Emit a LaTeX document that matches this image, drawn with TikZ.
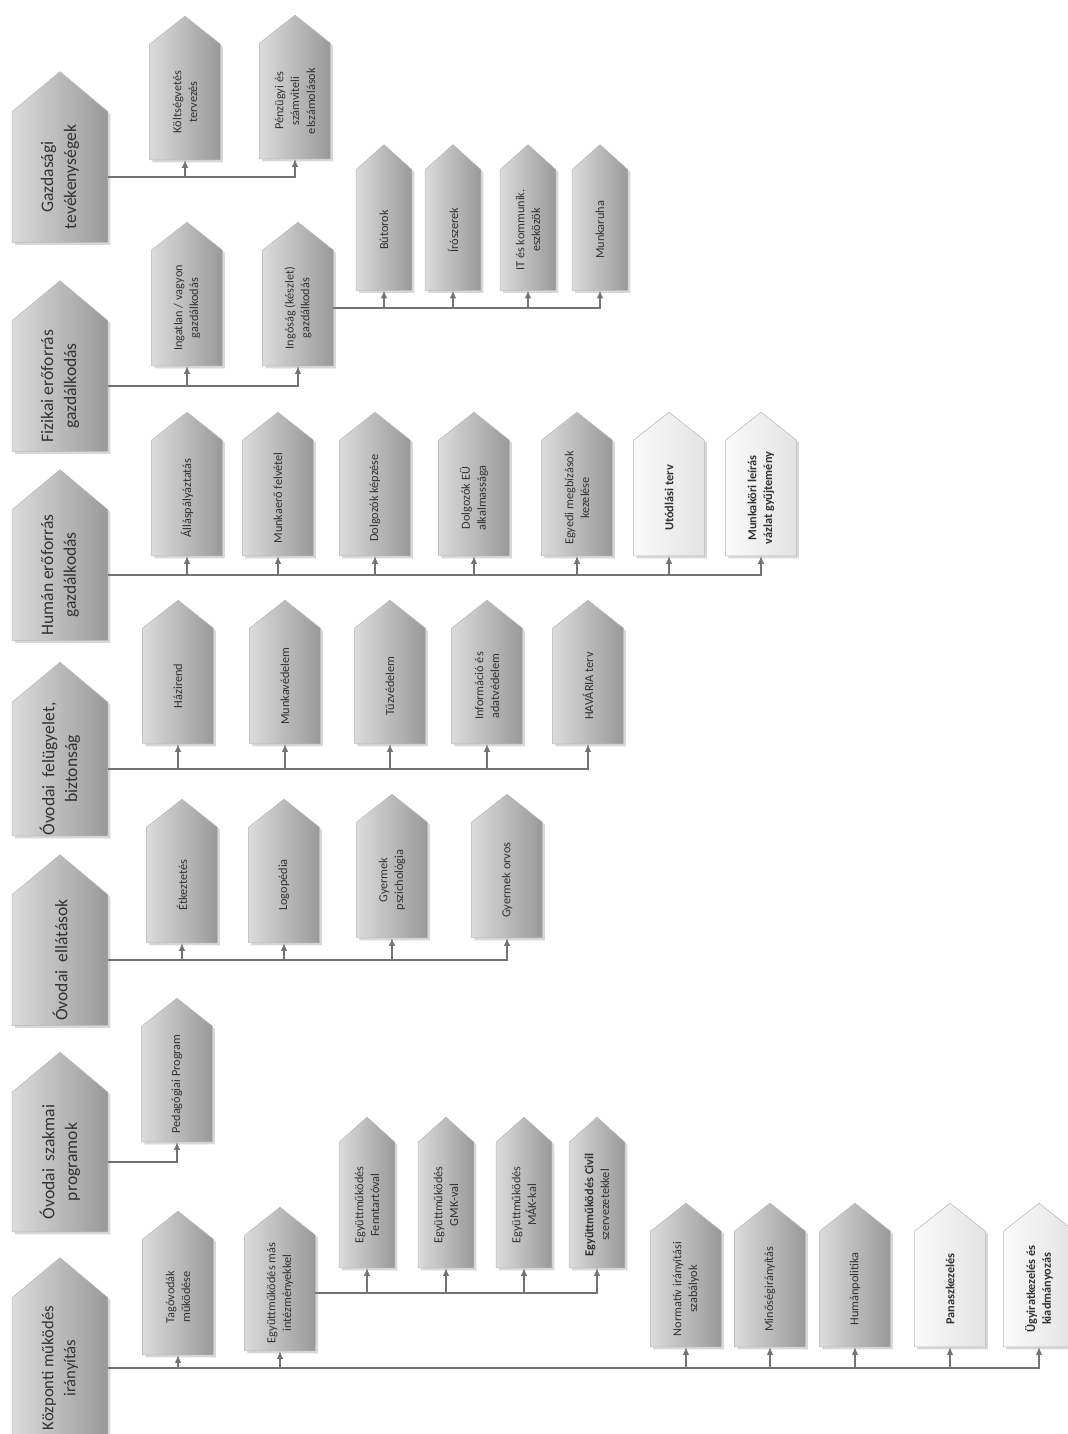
\documentclass[tikz,border=0pt]{standalone}
\usepackage{fontspec}
\setmainfont{Carlito}
\usetikzlibrary{arrows.meta,backgrounds,shadows}

% rotated boxes: local x runs up the page, so .south is the page-right side
% and .west is the page-bottom side
\tikzset{
  box/.style={rotate=90, inner sep=0pt, align=center, text=black!80},
  main/.style={box, minimum width=2.6cm, minimum height=1.9cm, font=\fontsize{10}{13}\selectfont},
  kid/.style={box, minimum width=2.3cm, minimum height=1.4cm, font=\fontsize{7}{9}\selectfont},
  leaf/.style={box, minimum width=2.4cm, minimum height=1.1cm, font=\fontsize{7}{9}\selectfont},
  house/.style={left color=black!14, right color=black!40, draw=black!28, line width=0.3pt,
    drop shadow={shadow xshift=1.5pt, shadow yshift=-1.5pt, opacity=0.3}},
  pale/.style={house, left color=black!2, right color=black!11},
  conn/.style={draw=black!55, line width=0.8pt, -{Latex[length=4.5pt,width=3.6pt]}}
}

\begin{document}
\begin{tikzpicture}[x=0.02cm, y=-0.02cm]
\useasboundingbox (0,0) rectangle (1068,1434);

% main column
\node[main] (gaz) at (60,177) {Gazdasági\\tevékenységek};
\node[main] (fiz) at (60,386) {Fizikai erőforrás\\gazdálkodás};
\node[main] (hum) at (60,575) {Humán erőforrás\\gazdálkodás};
\node[main] (fel) at (60,769) {Óvodai\ \ felügyelet,\\biztonság};
\node[main] (ell) at (60,960) {Óvodai\ \ ellátások};
\node[main, minimum width=2.78cm] (szak) at (60,1162) {Óvodai\ \ szakmai\\programok};
\node[main, minimum width=2.8cm, font=\fontsize{9.5}{12.5}\selectfont] (kozp) at (60,1368) {Központi működés\\irányítás};

% gazdasagi
\node[kid] (kolt) at (185,102) {Költségvetés\\tervezés};
\node[kid] (penz) at (295,101) {Pénzügyi és\\számviteli\\elszámolások};

% fizikai
\node[kid] (ingatlan) at (187,308) {Ingatlan / vagyon\\gazdálkodás};
\node[kid] (ingosag) at (298,308) {Ingóság (készlet)\\gazdálkodás};
\node[leaf] (butor) at (384,230) {Bútorok};
\node[leaf] (iro) at (453,230) {Írószerek};
\node[leaf] (it) at (528,230) {IT és kommunik.\\eszközök};
\node[leaf] (ruha) at (600,230) {Munkaruha};

% human
\node[kid] (allas) at (187,498) {Álláspályáztatás};
\node[kid] (munkaero) at (278,498) {Munkaerő felvétel};
\node[kid] (kepzes) at (375,498) {Dolgozók képzése};
\node[kid] (eu) at (474,498) {Dolgozók EÜ\\alkalmassága};
\node[kid] (egyedi) at (577,498) {Egyedi megbízások\\kezelése};
\node[kid, font=\fontsize{7}{9}\selectfont\bfseries] (utod) at (669,498) {Utódlási terv};
\node[kid, font=\fontsize{7}{9}\selectfont\bfseries] (leiras) at (761,498) {Munkaköri leírás\\vázlat gyűjtemény};

% felugyelet
\node[kid] (hazi) at (178,686) {Házirend};
\node[kid] (munkaved) at (285,686) {Munkavédelem};
\node[kid] (tuz) at (390,686) {Tűzvédelem};
\node[kid] (info) at (487,686) {Információ és\\adatvédelem};
\node[kid] (havaria) at (588,686) {HAVÁRIA terv};

% ellatasok
\node[kid] (etkez) at (182,885) {Étkeztetés};
\node[kid] (logo) at (284,885) {Logopédia};
\node[kid] (pszich) at (392,880) {Gyermek\\pszichológia};
\node[kid] (orvos) at (507,880) {Gyermek orvos};

% szakmai programok
\node[kid] (ped) at (177,1084) {Pedagógiai Program};

% kozponti
\node[kid] (tag) at (178,1297) {Tagóvodák\\működése};
\node[kid] (egy) at (280,1293) {Együttműködés más\\intézményekkel};
\node[leaf, minimum width=2.5cm] (fenn) at (367,1205) {Együttműködés\\Fenntartóval};
\node[leaf, minimum width=2.5cm] (gmk) at (446,1205) {Együttműködés\\GMK-val};
\node[leaf, minimum width=2.5cm] (mak) at (524,1205) {Együttműködés\\MÁK-kal};
\node[leaf, minimum width=2.5cm] (civil) at (597,1205) {{\bfseries Együttműködés Civil}\\szervezetekkel};
\node[kid] (norm) at (686,1289) {Normatív irányítási\\szabályok};
\node[kid] (minoseg) at (770,1289) {Minőségirányítás};
\node[kid] (humpol) at (855,1289) {Humánpolitika};
\node[kid, font=\fontsize{7}{9}\selectfont\bfseries] (panasz) at (950,1289) {Panaszkezelés};
\node[kid, font=\fontsize{7}{9}\selectfont\bfseries] (ugyirat) at (1039,1289) {Ügyiratkezelés és\\kiadmányozás};

% house outlines behind the text
\begin{scope}[on background layer]
\fill[white] (0,0) rectangle (1068,1434);
\foreach \n in {gaz,fiz,hum,fel,ell,szak,kozp}
  \path[house] (\n.north west) -- (\n.north east) -- ([yshift=0.8cm]\n.east) -- (\n.south east) -- (\n.south west) -- cycle;
\foreach \n in {kolt,penz,ingatlan,ingosag,allas,munkaero,kepzes,eu,egyedi,hazi,munkaved,tuz,info,havaria,etkez,logo,pszich,orvos,ped,tag,egy,norm,minoseg,humpol}
  \path[house] (\n.north west) -- (\n.north east) -- ([yshift=0.56cm]\n.east) -- (\n.south east) -- (\n.south west) -- cycle;
\foreach \n in {utod,leiras,panasz,ugyirat}
  \path[pale] (\n.north west) -- (\n.north east) -- ([yshift=0.56cm]\n.east) -- (\n.south east) -- (\n.south west) -- cycle;
\foreach \n in {butor,iro,it,ruha,fenn,gmk,mak,civil}
  \path[house] (\n.north west) -- (\n.north east) -- ([yshift=0.5cm]\n.east) -- (\n.south east) -- (\n.south west) -- cycle;
\end{scope}

% connectors
\foreach \k in {kolt,penz} \draw[conn] (gaz.south) -| (\k.west);
\foreach \k in {ingatlan,ingosag} \draw[conn] (fiz.south) -| (\k.west);
\foreach \k in {butor,iro,it,ruha} \draw[conn] (ingosag.south) -| (\k.west);
\foreach \k in {allas,munkaero,kepzes,eu,egyedi,utod,leiras} \draw[conn] (hum.south) -| (\k.west);
\foreach \k in {hazi,munkaved,tuz,info,havaria} \draw[conn] (fel.south) -| (\k.west);
\foreach \k in {etkez,logo,pszich,orvos} \draw[conn] (ell.south) -| (\k.west);
\draw[conn] (szak.south) -| (ped.west);
\foreach \k in {tag,egy,norm,minoseg,humpol,panasz,ugyirat} \draw[conn, line width=1.1pt] (kozp.south) -| (\k.west);
\foreach \k in {fenn,gmk,mak,civil} \draw[conn] (egy.south) -| (\k.west);
\end{tikzpicture}
\end{document}
